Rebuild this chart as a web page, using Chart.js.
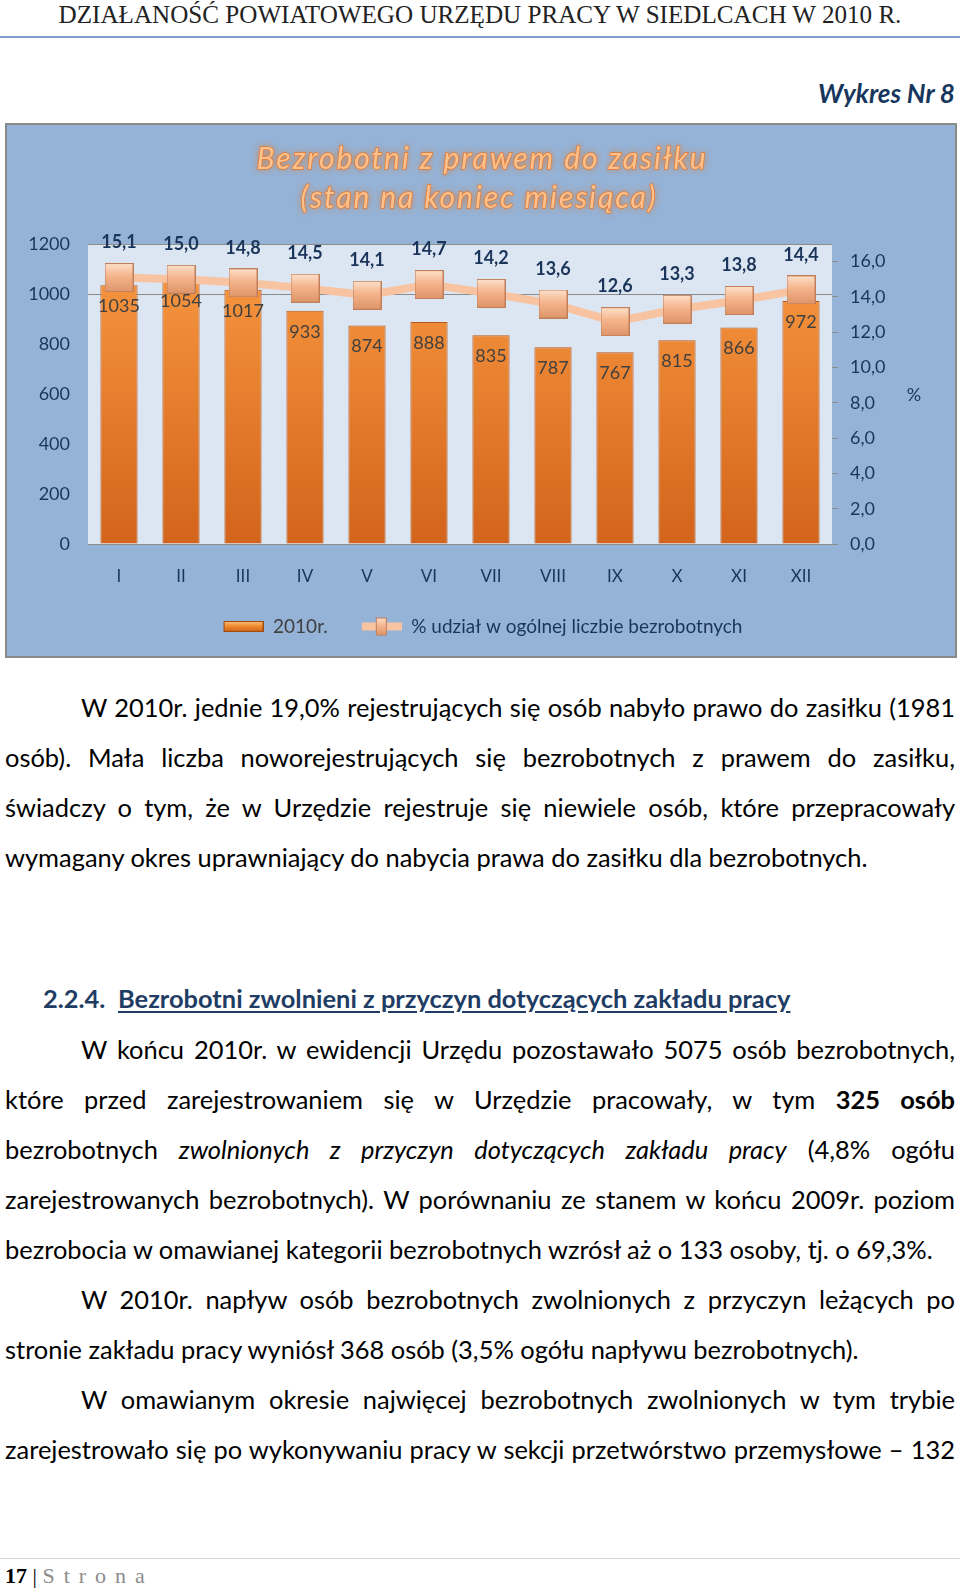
<!DOCTYPE html>
<html lang="pl">
<head>
<meta charset="utf-8">
<title>Wykres Nr 8</title>
<script src="https://cdn.jsdelivr.net/npm/chart.js@4.4.1/dist/chart.umd.min.js"></script>
<style>
html, body { margin: 0; padding: 0; background: #fff; }
body { width: 960px; height: 1588px; position: relative; overflow: hidden; font-family: Lato, "Open Sans", sans-serif; color: #000; }
.head { position: absolute; left: 0; top: 0; width: 960px; line-height: 30px; text-align: center; white-space: nowrap; }
.head span { display: inline-block; font-family: "Liberation Serif", "DejaVu Serif", serif; font-size: 22px; color: #222; }
.rule { position: absolute; left: 0; top: 36px; width: 960px; height: 2px; background: #7f9ccb; }
.wyk { position: absolute; right: 5px; top: 78px; line-height: 30px; font-weight: bold; font-style: italic; font-size: 24px; color: #17365d; white-space: nowrap; }
.frame { position: absolute; left: 5px; top: 123px; width: 952px; height: 535px; box-sizing: border-box; border: 2px solid #8a8a8a; background: #95b3d7; }
.frame canvas { display: block; }
.txt { position: absolute; left: 5px; width: 950px; font-size: var(--fs, 23px); line-height: 50px; }
.txt div { height: 50px; }
.j { text-align: justify; text-align-last: justify; }
.ind { text-indent: 76px; }
.sec { position: absolute; top: 973px; line-height: 50px; font-weight: bold; color: #1f3d64; white-space: nowrap; font-size: var(--fs, 23px); }
.sec .t { text-decoration: underline; text-underline-offset: 3px; }
.foot-rule { position: absolute; left: 0; top: 1558px; width: 960px; height: 1px; background: #d4d4d4; }
.foot { position: absolute; left: 5px; top: 1562px; line-height: 28px; font-family: "Liberation Serif", serif; font-size: 22px; white-space: nowrap; }
.foot b { color: #000; }
.foot .s { color: #8c8c8c; letter-spacing: 9px; }
</style>
</head>
<body>

<div class="head"><span id="head">DZIAŁANOŚĆ POWIATOWEGO URZĘDU PRACY W SIEDLCACH W 2010 R.</span></div>
<div class="rule"></div>
<div class="wyk" id="wyk">Wykres Nr 8</div>

<div class="frame">
  <canvas id="chart" width="948" height="531"></canvas>
</div>

<div class="txt" id="p1" style="top:682px">
  <div class="j ind">W 2010r. jednie 19,0% rejestrujących się osób nabyło prawo do zasiłku (1981</div>
  <div class="j">osób). Mała liczba noworejestrujących się bezrobotnych z prawem do zasiłku,</div>
  <div class="j">świadczy o tym, że w Urzędzie rejestruje się niewiele osób, które przepracowały</div>
  <div><span id="fitLine">wymagany okres uprawniający do nabycia prawa do zasiłku dla bezrobotnych.</span></div>
</div>

<div class="sec" style="left:43px">2.2.4.</div>
<div class="sec" style="left:118px"><span class="t" id="secTitle">Bezrobotni zwolnieni z przyczyn dotyczących zakładu pracy</span></div>

<div class="txt" id="p2" style="top:1024px">
  <div class="j ind">W końcu 2010r. w ewidencji Urzędu pozostawało 5075 osób bezrobotnych,</div>
  <div class="j">które przed zarejestrowaniem się w Urzędzie pracowały, w tym <b>325 osób</b></div>
  <div class="j">bezrobotnych <i>zwolnionych z przyczyn dotyczących zakładu pracy</i> (4,8% ogółu</div>
  <div class="j">zarejestrowanych bezrobotnych). W porównaniu ze stanem w końcu 2009r. poziom</div>
  <div>bezrobocia w omawianej kategorii bezrobotnych wzrósł aż o 133 osoby, tj. o 69,3%.</div>
  <div class="j ind">W 2010r. napływ osób bezrobotnych zwolnionych z przyczyn leżących po</div>
  <div>stronie zakładu pracy wyniósł 368 osób (3,5% ogółu napływu bezrobotnych).</div>
  <div class="j ind">W omawianym okresie najwięcej bezrobotnych zwolnionych w tym trybie</div>
  <div class="j">zarejestrowało się po wykonywaniu pracy w sekcji przetwórstwo przemysłowe – 132</div>
</div>

<div class="foot-rule"></div>
<div class="foot"><b>17</b> | <span class="s">Strona</span></div>

<script>
// dane z wykresu
const months = ['I', 'II', 'III', 'IV', 'V', 'VI', 'VII', 'VIII', 'IX', 'X', 'XI', 'XII'];
const counts = [1035, 1054, 1017, 933, 874, 888, 835, 787, 767, 815, 866, 972];
const shares = [15.1, 15.0, 14.8, 14.5, 14.1, 14.7, 14.2, 13.6, 12.6, 13.3, 13.8, 14.4];
const countTicks = [0, 200, 400, 600, 800, 1000, 1200];
const shareTicks = [0, 2, 4, 6, 8, 10, 12, 14, 16];
const titleLines = ['Bezrobotni z prawem do zasiłku', '(stan na koniec miesiąca)'];
const seriesNames = ['2010r.', '% udział w ogólnej liczbie bezrobotnych'];

const fmt = v => v.toFixed(1).replace('.', ',');

// --- text fitting for the page copy ---
const fitTo = (el, target) => {
  const w = el.getBoundingClientRect().width;
  const fs = parseFloat(getComputedStyle(el).fontSize);
  return fs * target / w;
};
const fs = fitTo(document.getElementById('fitLine'), 863);
document.body.style.setProperty('--fs', fs + 'px');
document.getElementById('head').style.fontSize = fitTo(document.getElementById('head'), 843) + 'px';
const wyk = document.getElementById('wyk');
wyk.style.fontSize = fitTo(wyk, 137) + 'px';

// justified lines that would overflow get a touch of negative letter-spacing
document.querySelectorAll('.txt .j').forEach(line => {
  const probe = document.createElement('span');
  probe.style.cssText = 'position:absolute;visibility:hidden;white-space:nowrap;text-indent:0';
  probe.innerHTML = line.innerHTML;
  line.appendChild(probe);
  const w = probe.getBoundingClientRect().width;
  line.removeChild(probe);
  const avail = 950 - (line.classList.contains('ind') ? 76 : 0) - 4;
  if (w > avail) line.style.letterSpacing = (-(w - avail) / line.textContent.length) + 'px';
});

// --- chart ---
Chart.defaults.font.family = 'Lato';

const makeBox = (w, h, top, mid, bot, edge, pad) => {
  const c = document.createElement('canvas');
  c.width = w + (pad || 0); c.height = h;
  const g = c.getContext('2d');
  const x0 = pad || 0;
  const gr = g.createLinearGradient(0, 0, 0, h);
  gr.addColorStop(0, top); gr.addColorStop(0.45, mid); gr.addColorStop(1, bot);
  g.fillStyle = gr;
  g.fillRect(x0, 0, w, h);
  g.strokeStyle = edge; g.lineWidth = 1;
  g.strokeRect(x0 + 0.5, 0.5, w - 1, h - 1);
  return c;
};

const marker = makeBox(29, 29, '#fde2cc', '#f5b48c', '#de9468', '#c07f5a');

// legend symbols (transparent 24px on the left to space the items)
const legendBar = makeBox(40, 11, '#fbc27e', '#f28c30', '#c85f16', '#9c4b12', 24);
const legendLine = (() => {
  const c = document.createElement('canvas');
  c.width = 64; c.height = 20;
  const g = c.getContext('2d');
  g.fillStyle = '#f8c3a0';
  g.fillRect(24, 6, 40, 8);
  g.drawImage(makeBox(11, 18, '#fde2cc', '#f5b48c', '#de9468', '#c07f5a'), 38, 1);
  return c;
})();

const plotArea = {
  id: 'plotArea',
  beforeDraw(chart) {
    const {ctx, chartArea: a} = chart;
    ctx.save();
    ctx.fillStyle = '#dce6f2';
    ctx.fillRect(a.left, a.top, a.right - a.left, a.bottom - a.top);
    ctx.restore();
  },
  afterDatasetsDraw(chart) {
    const ctx = chart.ctx;
    const bars = chart.getDatasetMeta(0).data;
    const pts = chart.getDatasetMeta(1).data;
    ctx.save();
    ctx.textAlign = 'center';
    ctx.textBaseline = 'middle';
    ctx.font = '18px Lato';
    ctx.fillStyle = '#404040';
    bars.forEach((b, i) => ctx.fillText(counts[i], b.x, b.y + 21));
    ctx.font = 'bold 18px Lato';
    ctx.fillStyle = '#1b355a';
    pts.forEach((p, i) => ctx.fillText(fmt(shares[i]), p.x, p.y - 35));
    ctx.restore();
  },
  afterDraw(chart) {
    const ctx = chart.ctx;
    ctx.save();
    ctx.textAlign = 'center';
    ctx.textBaseline = 'middle';
    ctx.font = 'italic 30px Lato';
    const targets = [[475, 34, 449], [472, 73, 355]];
    titleLines.forEach((t, i) => {
      const [x, y, w] = targets[i];
      ctx.letterSpacing = '0px';
      const w0 = ctx.measureText(t).width;
      ctx.letterSpacing = Math.max(0, (w - w0) / (t.length - 1)) + 'px';
      ctx.shadowColor = 'rgba(230,110,20,1)';
      ctx.shadowBlur = 7;
      ctx.fillStyle = '#fbc28f';
      ctx.fillText(t, x, y);
      ctx.shadowBlur = 0;
      ctx.strokeStyle = '#e8782a';
      ctx.lineWidth = 1.4;
      ctx.strokeText(t, x, y);
      ctx.fillText(t, x, y);
    });
    ctx.letterSpacing = '0px';
    ctx.font = '18px Lato';
    ctx.fillStyle = '#1b355a';
    ctx.fillText('%', 907, 270);
    ctx.restore();
  }
};

new Chart(document.getElementById('chart'), {
  data: {
    labels: months,
    datasets: [
      {
        type: 'bar',
        label: seriesNames[0],
        data: counts,
        yAxisID: 'y',
        order: 1,
        barPercentage: 0.6,
        categoryPercentage: 1,
        borderWidth: 1,
        borderColor: '#b9581a',
        backgroundColor: c => {
          const a = c.chart.chartArea;
          if (!a) return '#f28c30';
          const g = c.chart.ctx.createLinearGradient(0, a.top, 0, a.bottom);
          g.addColorStop(0, '#fa9a42');
          g.addColorStop(1, '#d2641b');
          return g;
        }
      },
      {
        type: 'line',
        label: seriesNames[1],
        data: shares,
        yAxisID: 'y1',
        order: 0,
        borderColor: '#f8c3a0',
        borderWidth: 8,
        pointStyle: marker,
        pointRadius: 15,
        tension: 0
      }
    ]
  },
  options: {
    responsive: false,
    animation: false,
    layout: { padding: { top: 119, right: 20, bottom: 10, left: 0 } },
    scales: {
      x: {
        grid: { color: 'transparent', drawTicks: false },
        border: { display: true, color: '#8c8c8c' },
        ticks: { color: '#1b355a', font: { size: 17 }, padding: 22 },
        afterFit: s => { s.height = 531 - 419 - 10 - (s.chart.legend ? s.chart.legend.height : 38); }
      },
      y: {
        position: 'left',
        min: 0,
        max: 1200,
        afterBuildTicks: s => { s.ticks = countTicks.map(v => ({ value: v })); },
        afterFit: s => { s.width = 81; },
        grid: {
          drawTicks: false,
          color: c => (c.tick && (c.tick.value === 1000 || c.tick.value === 1200)) ? '#8c8c8c' : 'transparent'
        },
        border: { display: false },
        ticks: { color: '#1b355a', font: { size: 18 }, padding: 18, callback: v => String(v) }
      },
      y1: {
        position: 'right',
        min: 0,
        max: 17,
        afterBuildTicks: s => { s.ticks = shareTicks.map(v => ({ value: v })); },
        afterFit: s => { s.width = 103; },
        grid: { drawOnChartArea: false, drawTicks: true, tickLength: 6, color: '#8c8c8c' },
        border: { display: false },
        ticks: { color: '#1b355a', font: { size: 18 }, padding: 12, callback: v => fmt(v) }
      }
    },
    plugins: {
      tooltip: { enabled: false },
      legend: {
        position: 'bottom',
        labels: {
          usePointStyle: true,
          pointStyleWidth: 64,
          boxHeight: 18,
          padding: 10,
          font: { size: 19 },
          generateLabels: () => [
            { text: seriesNames[0], pointStyle: legendBar, fontColor: '#3f3f3f', datasetIndex: 0, lineWidth: 0, strokeStyle: 'transparent', fillStyle: 'transparent' },
            { text: seriesNames[1], pointStyle: legendLine, fontColor: '#1b355a', datasetIndex: 1, lineWidth: 0, strokeStyle: 'transparent', fillStyle: 'transparent' }
          ]
        }
      }
    }
  },
  plugins: [plotArea]
});
</script>
</body>
</html>
